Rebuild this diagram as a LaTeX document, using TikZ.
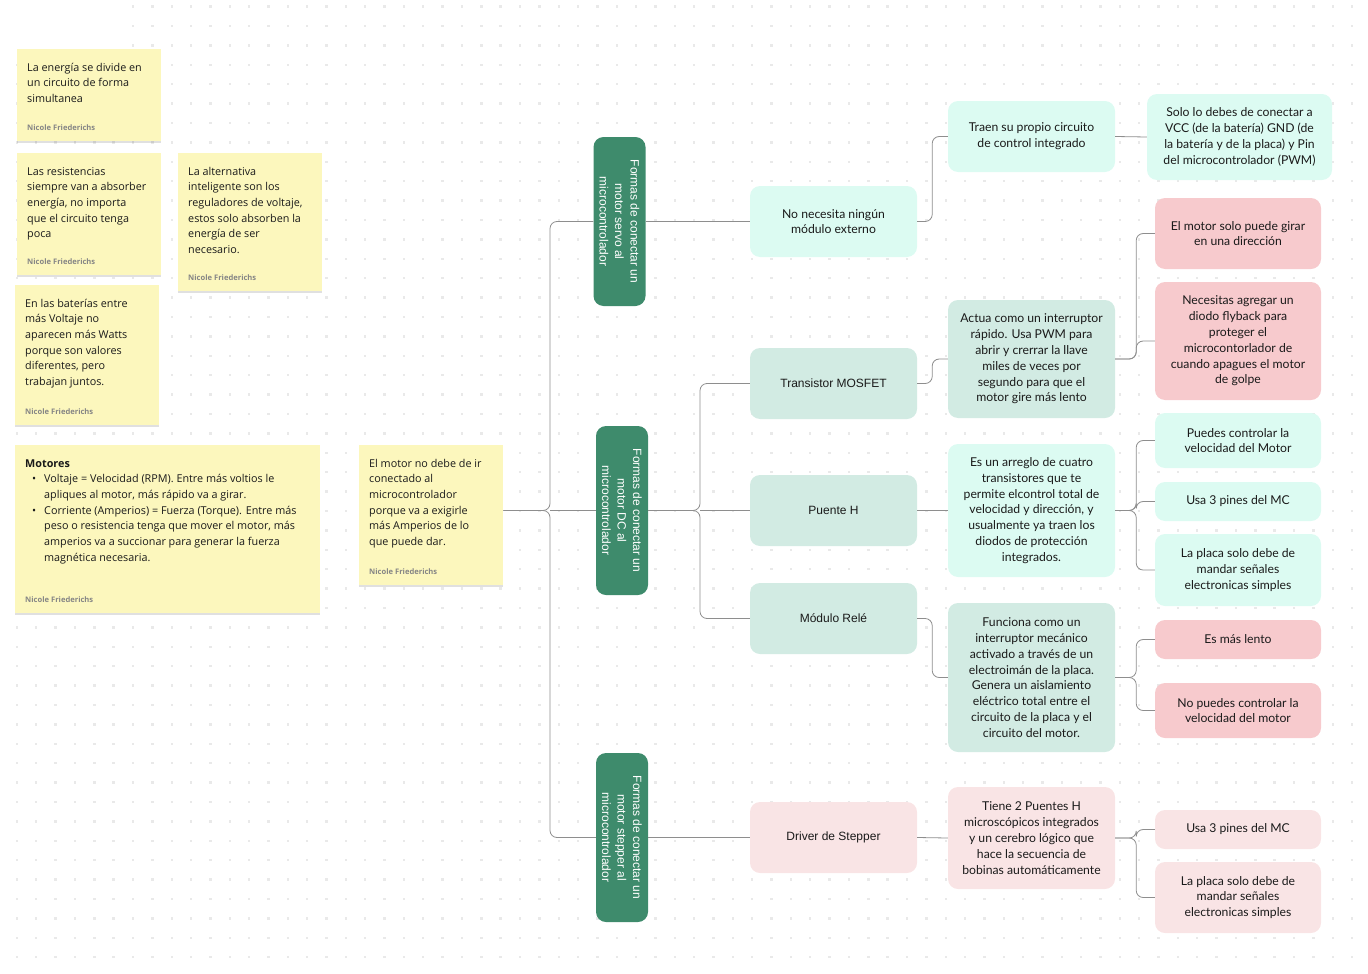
\documentclass[tikz,border=0pt]{standalone}
\usepackage{fontspec}
\setmainfont{Lato}
\newfontfamily\notefont{Open Sans}
\newfontfamily\headfont{Liberation Sans}
\usepackage{tikz}
\usetikzlibrary{positioning,calc,shadows}
\definecolor{ink}{HTML}{1A1A1A}
\definecolor{notebg}{HTML}{FCF7BD}
\definecolor{authorgray}{HTML}{858585}
\definecolor{titlegreen}{HTML}{3E8B6C}
\definecolor{mintlight}{HTML}{DCFBF2}
\definecolor{mintgray}{HTML}{D2EBE3}
\definecolor{pinkstrong}{HTML}{F7CACD}
\definecolor{pinklight}{HTML}{F9E4E5}
\definecolor{wirecolor}{HTML}{8E8E8E}
\definecolor{dotgray}{HTML}{E9E9E9}

\newcommand{\nicole}{{\notefont\fontsize{7.6}{8}\selectfont\bfseries\color{authorgray}Nicole Friederichs}}
\newcommand{\sticky}[3]{\parbox[t][#1][t]{#2}{\raggedright\notefont\fontsize{10.8}{15.7}\selectfont\strut #3\par\vfill\nicole}}

\begin{document}
\begin{tikzpicture}[
    x=1pt, y=1pt,
    note/.style={fill=notebg, anchor=north west, inner xsep=10pt, inner ysep=11pt, text=ink,
        drop shadow={shadow xshift=0pt, shadow yshift=-2pt, fill=black, opacity=0.12}},
    title/.style={fill=titlegreen, text=white, rounded corners=10pt, rotate=-90, align=center,
        minimum width=169pt, minimum height=52pt, inner sep=2pt, font=\headfont\fontsize{12}{15.5}\selectfont},
    card/.style={fill=#1, rounded corners=10pt, align=center, text=ink, minimum width=167pt,
        minimum height=71pt, inner sep=3pt, font=\fontsize{12.2}{15.8}\selectfont},
    head/.style={card=#1, font=\headfont\fontsize{12}{15.8}\selectfont},
    leaf/.style={card=#1, minimum width=166pt},
    wire/.style={draw=wirecolor, line width=0.8pt, rounded corners=7pt}
]
    \useasboundingbox (0,0) rectangle (1368,-974);

    % dotted canvas
    \foreach \j in {0,...,2}
        \foreach \i in {6,...,69}
            \fill[dotgray] ({16.9+19.35*\i-1.2},{-6.6-19.4*\j-1.2}) rectangle ++(2.4,2.4);
    \foreach \j in {3,...,49}
        \foreach \i in {0,...,69}
            \fill[dotgray] ({16.9+19.35*\i-1.2},{-6.6-19.4*\j-1.2}) rectangle ++(2.4,2.4);

    % Sticky notes
    \node[note] (energia) at (17,-49) {\sticky{70pt}{124pt}{La energía se divide en\\un circuito de forma\\simultanea}};
    \node[note] (resist) at (17,-153) {\sticky{100pt}{124pt}{Las resistencias\\siempre van a absorber\\energía, no importa\\que el circuito tenga\\poca}};
    \node[note] (regul) at (178,-153) {\sticky{116pt}{124pt}{La alternativa\\inteligente son los\\reguladores de voltaje,\\estos solo absorben la\\energía de ser\\necesario.}};
    \node[note] (bateria) at (15,-285) {\sticky{118pt}{124pt}{En las baterías entre\\más Voltaje no\\aparecen más Watts\\porque son valores\\diferentes, pero\\trabajan juntos.}};
    \node[note] (motores) at (15,-445) {\sticky{146pt}{285pt}{{\bfseries Motores}\par
        \noindent\hangindent=19pt\hangafter=1\hspace*{7pt}\makebox[12pt][l]{\textbullet}Voltaje = Velocidad (RPM). Entre más voltios le\newline apliques al motor, más rápido va a girar.\par
        \noindent\hangindent=19pt\hangafter=1\hspace*{7pt}\makebox[12pt][l]{\textbullet}Corriente (Amperios) = Fuerza (Torque). Entre más\newline peso o resistencia tenga que mover el motor, más\newline amperios va a succionar para generar la fuerza\newline magnética necesaria.}};
    \node[note] (root) at (359,-445) {\sticky{118pt}{124pt}{El motor no debe de ir\\conectado al\\microcontrolador\\porque va a exigirle\\más Amperios de lo\\que puede dar.}};

    % Forms of connection
    \node[title] (servo) at (619.5,-221.5) {Formas de conectar un\\motor servo al\\microcontrolador};
    \node[title] (dc) at (622,-510.5) {Formas de conectar un\\motor DC al\\microcontrolador};
    \node[title] (stepper) at (622,-837.5) {Formas de conectar un\\motor stepper al\\microcontrolador};

    % Servo branch
    \node[card=mintlight] (nomod) at (833.5,-221.5) {No necesita ningún\\módulo externo};
    \node[card=mintlight] (traen) at (1031.5,-136.5) {Traen su propio circuito\\de control integrado};
    \node[card=mintlight, minimum width=185pt, minimum height=86pt] (solo) at (1239.5,-137) {Solo lo debes de conectar a\\VCC (de la batería) GND (de\\la batería y de la placa) y Pin\\del microcontrolador (PWM)};

    % DC branch
    \node[head=mintgray] (mosfet) at (833.5,-383.5) {Transistor MOSFET};
    \node[head=mintgray] (puente) at (833.5,-510.5) {Puente H};
    \node[head=mintgray] (rele) at (833.5,-618.5) {Módulo Relé};

    \node[card=mintgray, minimum height=118pt] (actua) at (1031.5,-359) {Actua como un interruptor\\rápido. Usa PWM para\\abrir y crerrar la llave\\miles de veces por\\segundo para que el\\motor gire más lento};
    \node[leaf=pinkstrong] (unadir) at (1238,-233.5) {El motor solo puede girar\\en una dirección};
    \node[leaf=pinkstrong, minimum height=118pt] (flyback) at (1238,-341) {Necesitas agregar un\\diodo flyback para\\proteger el\\microcontorlador de\\cuando apagues el motor\\de golpe};

    \node[card=mintlight, minimum height=133pt] (arreglo) at (1031.5,-510.5) {Es un arreglo de cuatro\\transistores que te\\permite elcontrol total de\\velocidad y dirección, y\\usualmente ya traen los\\diodos de protección\\integrados.};
    \node[leaf=mintlight, minimum height=55pt] (velmotor) at (1238,-440.5) {Puedes controlar la\\velocidad del Motor};
    \node[leaf=mintlight, minimum height=39pt] (pinesdc) at (1238,-501.5) {Usa 3 pines del MC};
    \node[leaf=mintlight, minimum height=72pt] (placadc) at (1238,-570) {La placa solo debe de\\mandar señales\\electronicas simples};

    \node[card=mintgray, minimum height=149pt] (funciona) at (1031.5,-677.5) {Funciona como un\\interruptor mecánico\\activado a través de un\\electroimán de la placa.\\Genera un aislamiento\\eléctrico total entre el\\circuito de la placa y el\\circuito del motor.};
    \node[leaf=pinkstrong, minimum height=39pt] (lento) at (1238,-639.5) {Es más lento};
    \node[leaf=pinkstrong, minimum height=55pt] (novel) at (1238,-710.5) {No puedes controlar la\\velocidad del motor};

    % Stepper branch
    \node[head=pinklight] (driver) at (833.5,-837.5) {Driver de Stepper};
    \node[card=pinklight, minimum height=102pt] (tiene) at (1031.5,-838) {Tiene 2 Puentes H\\microscópicos integrados\\y un cerebro lógico que\\hace la secuencia de\\bobinas automáticamente};
    \node[leaf=pinklight, minimum height=39pt] (pinesst) at (1238,-829.5) {Usa 3 pines del MC};
    \node[leaf=pinklight, minimum height=71pt] (placast) at (1238,-897.5) {La placa solo debe de\\mandar señales\\electronicas simples};

    % Connectors
    \coordinate (rootj) at (550,-510.5);
    \draw[wire] (root.east |- dc) -- (rootj) |- (servo.south);
    \draw[wire] (root.east |- dc) -- (rootj) |- (stepper.south);
    \draw[wire] (rootj) -- (dc.south);

    \draw[wire] (servo.north) -- (nomod.west);
    \draw[wire] (nomod.east) -- ++(15,0) |- (traen.west);
    \draw[wire] (traen.east) -- (solo.west);

    \coordinate (dcj) at (700,-510.5);
    \draw[wire] (dc.north) -- (dcj) |- (mosfet.west);
    \draw[wire] (dc.north) -- (dcj) |- (rele.west);
    \draw[wire] (dcj) -- (puente.west);

    \draw[wire] (mosfet.east) -- ++(15,0) |- (actua.west);
    \draw[wire] (actua.east) -- ++(21,0) |- (unadir.west);
    \draw[wire] (actua.east) -- ++(21,0) |- (flyback.west);

    \draw[wire] (puente.east) -- (arreglo.west);
    \draw[wire] (arreglo.east) -- ++(21,0) |- (velmotor.west);
    \draw[wire] (arreglo.east) -- ++(21,0) |- (pinesdc.west);
    \draw[wire] (arreglo.east) -- ++(21,0) |- (placadc.west);

    \draw[wire] (rele.east) -- ++(15,0) |- (funciona.west);
    \draw[wire] (funciona.east) -- ++(21,0) |- (lento.west);
    \draw[wire] (funciona.east) -- ++(21,0) |- (novel.west);

    \draw[wire] (stepper.north) -- (driver.west);
    \draw[wire] (driver.east) -- (tiene.west);
    \draw[wire] (tiene.east) -- ++(21,0) |- (pinesst.west);
    \draw[wire] (tiene.east) -- ++(21,0) |- (placast.west);
\end{tikzpicture}
\end{document}
